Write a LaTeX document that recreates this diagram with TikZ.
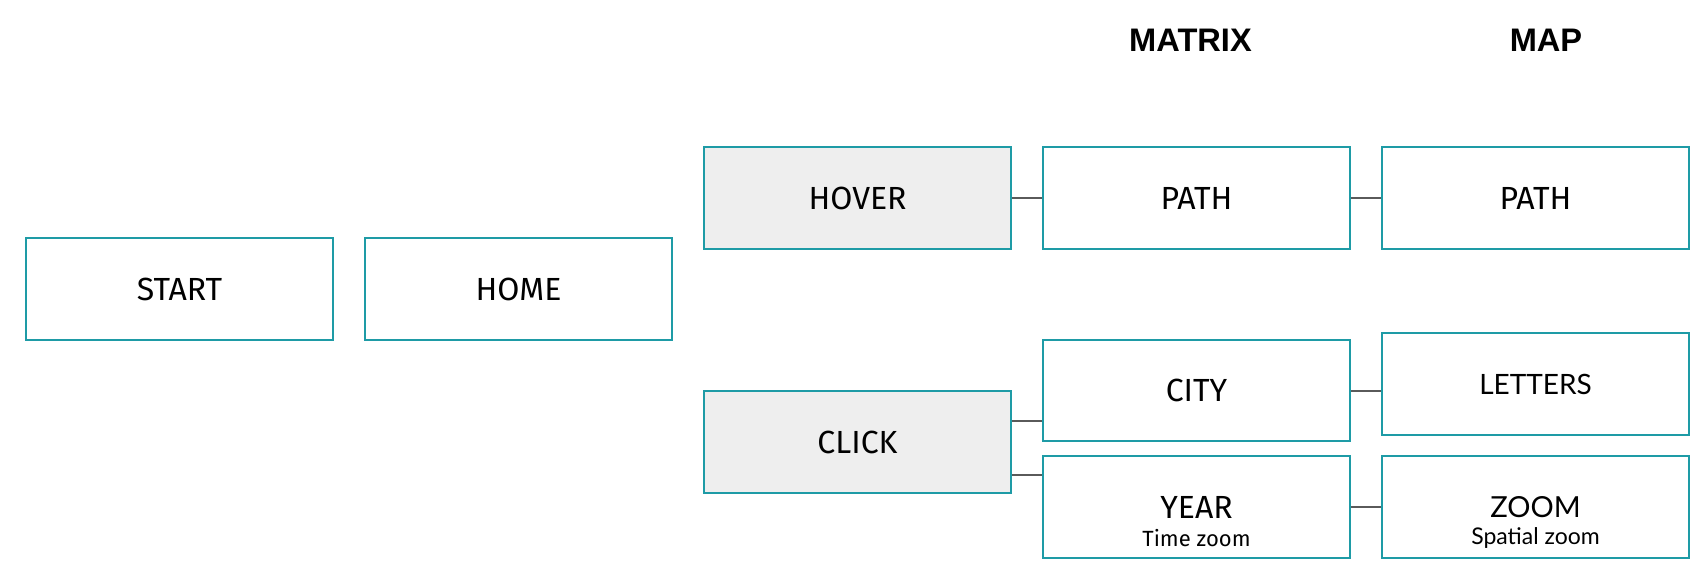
\documentclass[tikz,border=0pt]{standalone}
\usepackage{fontspec}
\usetikzlibrary{calc}
\setmainfont{Fira Sans}
\newfontfamily\titlefont{Liberation Sans}
\newfontfamily\karla{Lato}
\definecolor{teal1}{HTML}{1E9BA6}
\definecolor{fillgray}{HTML}{EEEEEE}
\definecolor{linegray}{HTML}{5A5A5A}
\tikzset{
  box/.style={draw=teal1, line width=2pt, fill=white, minimum width=307pt, minimum height=101.5pt, inner sep=0pt, font=\fontsize{32}{36}\selectfont},
  actbox/.style={box, fill=fillgray},
  title/.style={font=\titlefont\bfseries\fontsize{32.6}{36}\selectfont},
  sub/.style={font=\fontsize{22}{26}\selectfont, inner sep=0pt},
  conn/.style={draw=linegray, line width=2pt}
}
\begin{document}
\begin{tikzpicture}[x=1pt,y=-1pt]
\useasboundingbox (0,0) rectangle (1706,574);
\node[title] (tmatrix) at (1190.5,40) {MATRIX};
\node[title] (tmap) at (1546,40) {MAP};

\node[box] (start) at (179.5,289) {START};
\node[box] (home) at (518.5,289) {HOME};
\node[actbox] (hover) at (857.5,198) {HOVER};
\node[box] (path1) at (1196.5,198) {PATH};
\node[box] (path2) at (1535.5,198) {PATH};
\node[actbox] (click) at (857.5,442) {CLICK};
\node[box] (city) at (1196.5,390.5) {CITY};
\node[box] (year) at (1196.5,507) {YEAR};
\node[box, font=\karla\fontsize{28}{32}\selectfont] (letters) at (1535.5,384) {LETTERS};
\node[box, font=\karla\fontsize{29}{32}\selectfont] (zoom) at (1535.5,507) {ZOOM};
\node[sub] (yearsub) at ($(year.center)+(0,31)$) {Time zoom};
\node[sub, font=\karla\fontsize{23}{26}\selectfont] (zoomsub) at ($(zoom.center)+(0,31)$) {Spatial zoom};

\draw[conn] (hover.east) -- (path1.west);
\draw[conn] (path1.east) -- (path2.west);
\coordinate (c1) at ($(click.north east)!0.30!(click.south east)$);
\coordinate (c2) at ($(click.north east)!0.82!(click.south east)$);
\draw[conn] (c1) -- (c1 -| city.west);
\draw[conn] (c2) -- (c2 -| year.west);
\draw[conn] (city.east) -- (city.east -| letters.west);
\draw[conn] (year.east) -- (zoom.west);
\end{tikzpicture}
\end{document}
